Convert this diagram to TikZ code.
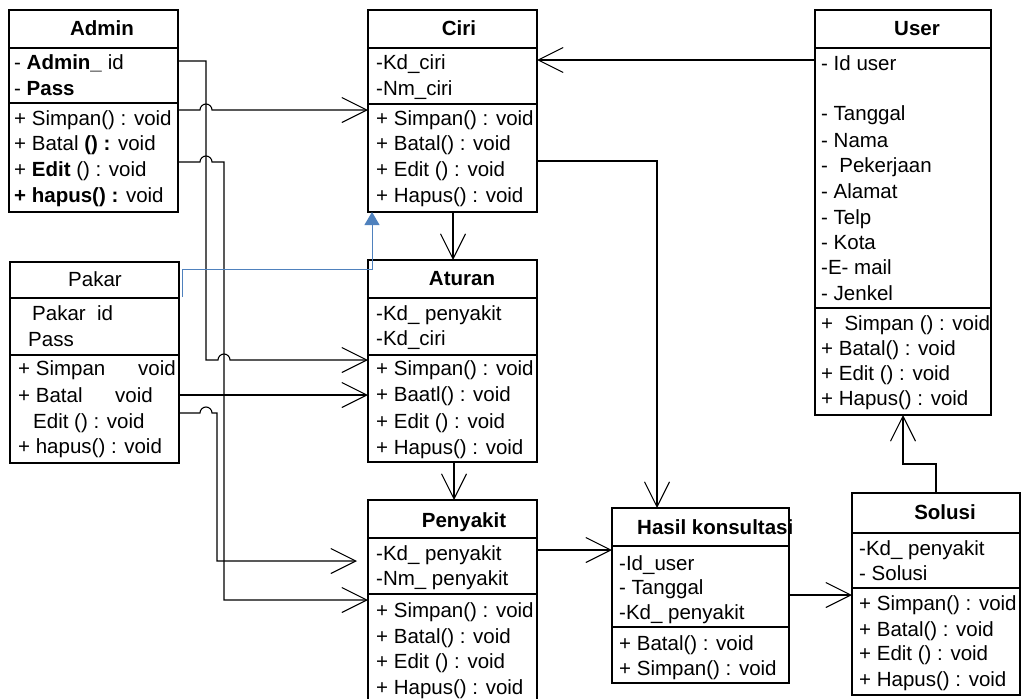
\documentclass[tikz,border=0pt]{standalone}
\usepackage{fontspec}
\setmainfont{Liberation Sans}
\usetikzlibrary{arrows.meta}
\definecolor{linkblue}{HTML}{4F81BD}

\newcommand{\diagfont}{\fontsize{20.5}{24}\selectfont}

\tikzset{
  boxframe/.style={draw, line width=2pt, inner sep=0pt, outer sep=0pt, anchor=north west},
  divider/.style={line width=2pt},
  lbl/.style={anchor=west, inner sep=0pt, text height=19pt, text depth=4pt, font=\diagfont},
  ttl/.style={inner sep=0pt, font=\diagfont\bfseries, text height=19pt, text depth=4pt},
  assoc/.style={line width=1.1pt, -{Straight Barb[length=25pt,width=25pt]}},
  gen/.style={draw=linkblue, line width=1pt, -{Triangle[length=13pt,width=15pt,fill=linkblue]}},
}

% class box: name, left, top, right, bottom, title divider, attribute divider
\newcommand{\classbox}[7]{%
  \node[boxframe, minimum width={(#4-#2)*1pt}, minimum height={(#5-#3)*1pt}] (#1) at (#2,#3) {};
  \draw[divider] (#2,#6) -- (#4,#6);
  \draw[divider] (#2,#7) -- (#4,#7);
}

\begin{document}
\begin{tikzpicture}[x=1pt, y=-1pt]
\useasboundingbox (0,0) rectangle (1021,699);

% ---------------- Admin
\classbox{admin}{9}{10}{178}{212}{48}{103}
\node[ttl] (admin-t) at (102,28) {Admin};
\node[lbl] (admin-a1) at (14,62) {- \textbf{Admin\_} id};
\node[lbl] (admin-a2) at (14,88) {- \textbf{Pass}};
\node[lbl] (admin-m1) at (14,118) {+ Simpan() : void};
\node[lbl] (admin-m2) at (14,143) {+ Batal \textbf{() :} void};
\node[lbl] (admin-m3) at (14,169) {+ \textbf{Edit} () : void};
\node[lbl] (admin-m4) at (14,195) {\textbf{+ hapus() :} void};

% ---------------- Pakar
\classbox{pakar}{10}{262}{179}{463}{298}{355}
\node[lbl, anchor=center] (pakar-t) at (95,279) {Pakar};
\node[lbl] (pakar-a1) at (32,313) {Pakar\ \ id};
\node[lbl] (pakar-a2) at (28,339) {Pass};
\node[lbl] (pakar-m1) at (18,368) {\makebox[120pt][l]{+ Simpan}void};
\node[lbl] (pakar-m2) at (18,395) {\makebox[97pt][l]{+ Batal}void};
\node[lbl] (pakar-m3) at (33,421) {Edit () : void};
\node[lbl] (pakar-m4) at (18,446) {+ hapus() : void};

% ---------------- Ciri
\classbox{ciri}{368}{10}{537}{212}{48}{104}
\node[ttl] (ciri-t) at (459,28) {Ciri};
\node[lbl] (ciri-a1) at (376,62) {-Kd\_ciri};
\node[lbl] (ciri-a2) at (376,88) {-Nm\_ciri};
\node[lbl] (ciri-m1) at (376,118) {+ Simpan() : void};
\node[lbl] (ciri-m2) at (376,143) {+ Batal() : void};
\node[lbl] (ciri-m3) at (376,169) {+ Edit () : void};
\node[lbl] (ciri-m4) at (376,195) {+ Hapus() : void};

% ---------------- Aturan
\classbox{aturan}{368}{260}{537}{462}{298}{355}
\node[ttl] (aturan-t) at (462,278) {Aturan};
\node[lbl] (aturan-a1) at (376,313) {-Kd\_ penyakit};
\node[lbl] (aturan-a2) at (376,338) {-Kd\_ciri};
\node[lbl] (aturan-m1) at (376,368) {+ Simpan() : void};
\node[lbl] (aturan-m2) at (376,394) {+ Baatl() : void};
\node[lbl] (aturan-m3) at (376,421) {+ Edit () : void};
\node[lbl] (aturan-m4) at (376,447) {+ Hapus() : void};

% ---------------- Penyakit
\classbox{penyakit}{368}{500}{537}{720}{538}{594}
\node[ttl] (penyakit-t) at (464,520) {Penyakit};
\node[lbl] (penyakit-a1) at (376,553) {-Kd\_ penyakit};
\node[lbl] (penyakit-a2) at (376,578) {-Nm\_ penyakit};
\node[lbl] (penyakit-m1) at (376,610) {+ Simpan() : void};
\node[lbl] (penyakit-m2) at (376,636) {+ Batal() : void};
\node[lbl] (penyakit-m3) at (376,661) {+ Edit () : void};
\node[lbl] (penyakit-m4) at (376,687) {+ Hapus() : void};

% ---------------- Hasil konsultasi
\classbox{hasil}{612}{508}{789}{683}{546}{627}
\node[ttl, anchor=west] (hasil-t) at (637,527) {Hasil konsultasi};
\node[lbl] (hasil-a1) at (619,563) {-Id\_user};
\node[lbl] (hasil-a2) at (619,587) {- Tanggal};
\node[lbl] (hasil-a3) at (619,612) {-Kd\_ penyakit};
\node[lbl] (hasil-m1) at (619,643) {+ Batal() : void};
\node[lbl] (hasil-m2) at (619,668) {+ Simpan() : void};

% ---------------- Solusi
\classbox{solusi}{852}{493}{1020}{695}{533}{588}
\node[ttl] (solusi-t) at (945,512) {Solusi};
\node[lbl] (solusi-a1) at (859,548) {-Kd\_ penyakit};
\node[lbl] (solusi-a2) at (859,573) {- Solusi};
\node[lbl] (solusi-m1) at (859,603) {+ Simpan() : void};
\node[lbl] (solusi-m2) at (859,629) {+ Batal() : void};
\node[lbl] (solusi-m3) at (859,653) {+ Edit () : void};
\node[lbl] (solusi-m4) at (859,679) {+ Hapus() : void};

% ---------------- User
\classbox{user}{815}{10}{991}{415}{48}{308}
\node[ttl] (user-t) at (917,28) {User};
\node[lbl] (user-a1) at (821,63) {- Id user};
\node[lbl] (user-a2) at (821,113) {- Tanggal};
\node[lbl] (user-a3) at (821,140) {- Nama};
\node[lbl] (user-a4) at (821,165) {-\ \ Pekerjaan};
\node[lbl] (user-a5) at (821,191) {- Alamat};
\node[lbl] (user-a6) at (821,217) {- Telp};
\node[lbl] (user-a7) at (821,242) {- Kota};
\node[lbl] (user-a8) at (821,267) {-E- mail};
\node[lbl] (user-a9) at (821,293) {- Jenkel};
\node[lbl] (user-m1) at (821,323) {+\ \ Simpan () : void};
\node[lbl] (user-m2) at (821,348) {+ Batal() : void};
\node[lbl] (user-m3) at (821,373) {+ Edit () : void};
\node[lbl] (user-m4) at (821,398) {+ Hapus() : void};

% ---------------- connectors (line hops drawn as small arcs)
\draw[assoc] (admin.east |- 0,61) -| (206,360) -- (218,360)
  arc[start angle=180, end angle=360, radius=6] -- (aturan.west |- 0,360);
\draw[assoc] (admin.east |- 0,110) -- (200,110)
  arc[start angle=180, end angle=360, radius=6] -- (ciri.west |- 0,110);
\draw[assoc] (admin.east |- 0,162) -- (200,162)
  arc[start angle=180, end angle=360, radius=6] -- (224,162) -- (224,600) -- (penyakit.west |- 0,600);
\draw[assoc] (pakar.east |- 0,395) -- (aturan.west |- 0,395);
\draw[assoc, shorten >=11pt] (pakar.east |- 0,413) -- (200,413)
  arc[start angle=180, end angle=360, radius=6] -- (217,413) -- (217,561) -- (penyakit.west |- 0,561);
\draw[gen] (182,297) -- (182,269) -- (372,269) -- (ciri.south -| 372,0);
\draw[assoc] (user.west |- 0,60) -- (ciri.east |- 0,60);
\draw[assoc] (ciri.east |- 0,161) -| (hasil.north -| 657,0);
\draw[assoc] (ciri.south -| 453,0) -- (aturan.north -| 453,0);
\draw[assoc] (aturan.south -| 454,0) -- (penyakit.north -| 454,0);
\draw[assoc] (penyakit.east |- 0,550) -- (hasil.west |- 0,550);
\draw[assoc] (hasil.east |- 0,595) -- (solusi.west |- 0,595);
\draw[assoc] (solusi.north -| 936,0) -- (936,464) -| (user.south -| 903,0);

\end{tikzpicture}
\end{document}
